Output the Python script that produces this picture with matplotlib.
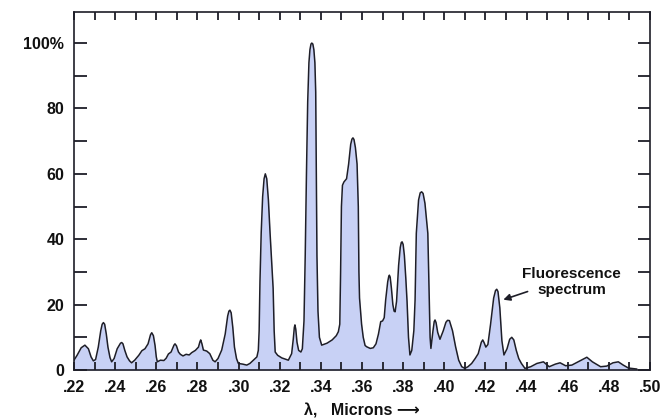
import numpy as np
import matplotlib
matplotlib.use("Agg")
import matplotlib.pyplot as plt

plt.rcParams['font.family'] = ['Liberation Sans', 'DejaVu Sans']

# wavelength in microns, relative intensity in %
wavelength = [
    0.2200, 0.2215, 0.2235, 0.2253, 0.2270, 0.2283, 0.2294, 0.2305, 0.2318, 0.2330,
    0.2337, 0.2343, 0.2349, 0.2357, 0.2365, 0.2375, 0.2383, 0.2395, 0.2410, 0.2426,
    0.2432, 0.2438, 0.2447, 0.2458, 0.2470, 0.2480, 0.2495, 0.2515, 0.2530, 0.2545,
    0.2560, 0.2572, 0.2578, 0.2586, 0.2594, 0.2600, 0.2605, 0.2620, 0.2637, 0.2648,
    0.2659, 0.2672, 0.2686, 0.2691, 0.2698, 0.2708, 0.2717, 0.2730, 0.2745, 0.2760,
    0.2772, 0.2790, 0.2805, 0.2812, 0.2816, 0.2822, 0.2829, 0.2845, 0.2860, 0.2875,
    0.2886, 0.2900, 0.2918, 0.2935, 0.2947, 0.2953, 0.2958, 0.2964, 0.2972, 0.2980,
    0.2990, 0.2999, 0.3020, 0.3040, 0.3055, 0.3072, 0.3089, 0.3096, 0.3100, 0.3104,
    0.3110, 0.3117, 0.3124, 0.3130, 0.3137, 0.3145, 0.3153, 0.3162, 0.3168, 0.3173,
    0.3178, 0.3190, 0.3210, 0.3242, 0.3258, 0.3266, 0.3271, 0.3274, 0.3278, 0.3284,
    0.3292, 0.3303, 0.3310, 0.3318, 0.3324, 0.3330, 0.3336, 0.3342, 0.3347, 0.3352,
    0.3356, 0.3361, 0.3366, 0.3371, 0.3375, 0.3378, 0.3381, 0.3386, 0.3393, 0.3404,
    0.3430, 0.3455, 0.3475, 0.3485, 0.3492, 0.3496, 0.3500, 0.3505, 0.3512, 0.3525,
    0.3535, 0.3545, 0.3551, 0.3556, 0.3561, 0.3568, 0.3576, 0.3582, 0.3585, 0.3588,
    0.3598, 0.3606, 0.3615, 0.3623, 0.3640, 0.3655, 0.3668, 0.3680, 0.3691, 0.3700,
    0.3708, 0.3715, 0.3725, 0.3730, 0.3733, 0.3737, 0.3743, 0.3750, 0.3756, 0.3761,
    0.3768, 0.3778, 0.3786, 0.3791, 0.3795, 0.3800, 0.3806, 0.3813, 0.3819, 0.3826,
    0.3833, 0.3842, 0.3852, 0.3858, 0.3864, 0.3875, 0.3883, 0.3890, 0.3897, 0.3906,
    0.3920, 0.3927, 0.3931, 0.3935, 0.3945, 0.3951, 0.3955, 0.3960, 0.3968, 0.3979,
    0.3995, 0.4008, 0.4016, 0.4025, 0.4040, 0.4055, 0.4070, 0.4085, 0.4100, 0.4115,
    0.4133, 0.4150, 0.4165, 0.4180, 0.4187, 0.4194, 0.4202, 0.4212, 0.4225, 0.4240,
    0.4249, 0.4255, 0.4261, 0.4270, 0.4280, 0.4290, 0.4305, 0.4318, 0.4328, 0.4338,
    0.4350, 0.4362, 0.4375, 0.4392, 0.4420, 0.4450, 0.4482, 0.4510, 0.4540, 0.4563,
    0.4590, 0.4620, 0.4660, 0.4693, 0.4720, 0.4760, 0.4790, 0.4820, 0.4846, 0.4870,
    0.4895, 0.4935,
]
intensity = [
    3.0, 4.5, 6.8, 7.6, 6.5, 4.0, 2.8, 3.2, 7.0, 12.0,
    14.0, 14.5, 14.0, 11.0, 7.0, 3.8, 2.5, 3.5, 6.5, 8.2,
    8.4, 8.0, 6.0, 4.0, 2.8, 2.2, 3.0, 4.5, 5.9, 6.5,
    8.0, 10.8, 11.4, 10.5, 7.5, 4.0, 2.5, 3.0, 2.9, 3.6,
    4.9, 5.5, 7.6, 8.0, 7.4, 5.5, 4.8, 4.3, 4.8, 4.6,
    5.3, 6.0, 7.0, 8.6, 9.2, 8.0, 6.1, 5.8, 5.0, 3.0,
    2.5, 3.5, 6.1, 11.0, 16.5, 18.0, 18.3, 17.5, 13.0, 7.0,
    3.5, 2.0, 1.8, 1.5, 2.0, 3.0, 4.0, 6.0, 12.0, 27.0,
    42.0, 53.0, 58.5, 60.0, 58.5, 52.0, 42.0, 32.0, 25.0, 12.0,
    5.5, 4.5, 3.7, 3.0, 5.0, 9.5, 13.0, 13.8, 12.5, 8.5,
    6.0, 5.5, 6.5, 15.0, 35.0, 60.0, 82.0, 94.0, 98.0, 99.7,
    100.0, 99.7, 98.0, 94.0, 85.0, 60.0, 35.0, 18.0, 10.0, 7.6,
    8.2, 9.2, 10.5, 11.7, 14.0, 30.0, 50.0, 56.5, 57.5, 58.5,
    63.0, 69.0, 70.6, 71.0, 70.5, 68.0, 63.0, 50.0, 30.0, 22.0,
    14.0, 10.0, 7.5, 7.1, 6.6, 6.8, 8.0, 11.0, 14.8, 15.0,
    16.0, 21.4, 27.0, 28.6, 29.0, 28.4, 25.0, 20.0, 18.0, 17.8,
    21.0, 32.0, 37.5, 39.0, 39.2, 38.4, 35.0, 28.0, 21.0, 10.0,
    4.6, 6.0, 12.0, 21.4, 41.8, 52.0, 54.2, 54.5, 54.0, 51.0,
    41.8, 21.4, 10.0, 6.6, 12.0, 14.8, 15.3, 14.5, 11.5, 9.4,
    12.0, 14.6, 15.2, 15.1, 12.0, 7.1, 3.0, 1.0, 0.5, 1.0,
    2.0, 3.5, 5.0, 8.5, 9.2, 8.3, 7.0, 7.8, 14.0, 22.0,
    24.3, 24.7, 24.0, 19.0, 9.0, 4.6, 6.5, 9.4, 10.0, 9.2,
    6.0, 3.5, 2.0, 0.5, 1.0, 2.0, 2.5, 1.0, 1.8, 2.2,
    1.3, 1.5, 2.8, 3.9, 2.5, 1.0, 1.2, 2.2, 2.5, 1.5,
    0.6, 0.3,
]

x_labels = ['.22', '.24', '.26', '.28', '.30', '.32', '.34', '.36',
            '.38', '.40', '.42', '.44', '.46', '.48', '.50']
y_labels = ['0', '20', '40', '60', '80', '100%']

fig = plt.figure(figsize=(6.71, 4.2), dpi=100)
ax = fig.add_axes([74 / 671, 50 / 420, 576 / 671, 358 / 420])

ink = '#1e1e28'
ax.fill_between(wavelength, intensity, 0, color='#c8d1f5', lw=0)
ax.plot(wavelength, intensity, color=ink, lw=1.1)

ax.set_xlim(0.22, 0.50)
ax.set_ylim(0, 109.5)

ax.set_xticks(np.arange(15) * 0.02 + 0.22)
ax.set_xticklabels(x_labels)
ax.set_xticks(np.arange(14) * 0.02 + 0.23, minor=True)
ax.set_yticks(np.arange(6) * 20)
ax.set_yticklabels(y_labels)
ax.set_yticks(np.arange(5) * 20 + 10, minor=True)

for s in ax.spines.values():
    s.set_color(ink)
    s.set_linewidth(1.2)

ax.tick_params(axis='both', which='both', direction='in', color=ink, width=1.3,
               top=True, right=True, labelsize=11.5, labelcolor='#111111')
ax.tick_params(axis='x', which='both', length=6, pad=7)
ax.tick_params(axis='y', which='both', length=9, pad=7)
for lab in ax.get_xticklabels() + ax.get_yticklabels():
    lab.set_fontweight('bold')

ax.set_xlabel('λ,   Microns ⟶', fontsize=11.5, fontweight='bold', labelpad=6,
              color='#111111')

ax.text(0.4620, 27.0, 'Fluorescence\nspectrum', ha='center', va='center',
        fontsize=11, fontweight='bold', color='#111111', linespacing=1.2)
ax.annotate('', xy=(0.4287, 21.5), xytext=(0.4405, 24.0),
            arrowprops=dict(arrowstyle='-|>', color=ink, lw=1.2,
                            mutation_scale=10, shrinkA=0, shrinkB=0))

fig.savefig('out.png', dpi=100)
